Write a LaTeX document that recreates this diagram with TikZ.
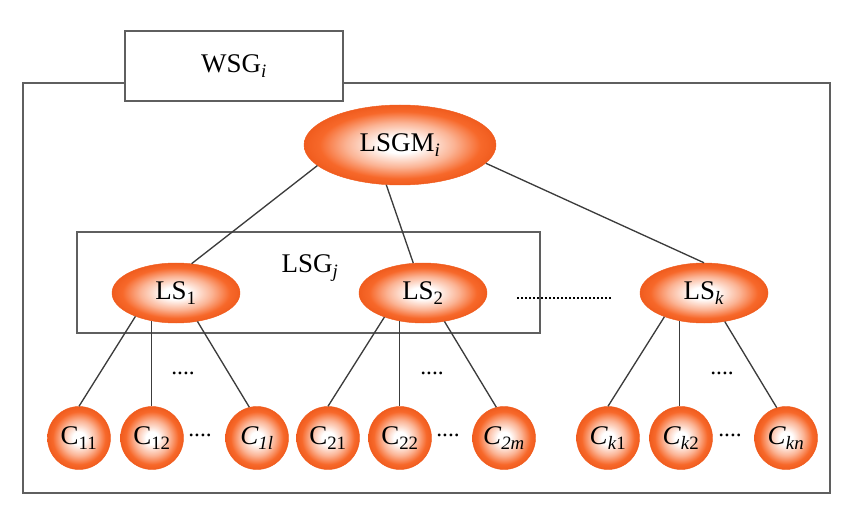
\documentclass[tikz,border=0pt]{standalone}
\usepackage{fontspec}
\setmainfont{Liberation Serif}
\usetikzlibrary{shapes.geometric}

\definecolor{nodeorange}{RGB}{247,104,42}
\definecolor{edgeorange}{RGB}{240,92,30}
\definecolor{linegray}{RGB}{60,60,60}
\definecolor{framegray}{RGB}{95,95,95}
\pgfdeclareradialshading{orangeglow}{\pgfpoint{0bp}{0bp}}{%
  color(0bp)=(white); color(5bp)=(white); color(14bp)=(nodeorange!50!white);
  color(21bp)=(nodeorange); color(25bp)=(edgeorange); color(50bp)=(edgeorange)}

\tikzset{
  bigfont/.style={font=\fontsize{23}{27}\selectfont},
  orangeball/.style={shading=orangeglow, draw=edgeorange, line width=0.4pt,
                     inner sep=0pt, bigfont},
  lsnode/.style={orangeball, ellipse, minimum width=3.84cm, minimum height=1.8cm},
  cnode/.style={orangeball, circle, minimum size=1.89cm},
  link/.style={draw=linegray, line width=0.04cm},
  framebox/.style={draw=framegray, line width=0.045cm},
  dotsnode/.style={font=\fontsize{20}{24}\selectfont, inner sep=0pt}
}

\begin{document}
\begin{tikzpicture}[x=0.03cm, y=-0.03cm]

    \useasboundingbox (0,0) rectangle (846,511);

    % outer frame and group label
    \draw[framebox] (23,83) rectangle (830,493);
    \node[framebox, fill=white, rectangle, minimum width=6.54cm,
          minimum height=2.1cm, bigfont] (wsg) at (234,66)
        {WSG\textsubscript{\textit{i}}};

    % local group box
    \draw[framebox] (77,232) rectangle (540,333);
    \node[bigfont] (lsg) at (310,268) {LSG\textsubscript{\textit{j}}};

    % manager
    \node[orangeball, ellipse, minimum width=5.76cm, minimum height=2.4cm]
        (lsgm) at (400,145) {LSGM\textsubscript{\textit{i}}};

    % servers
    \node[lsnode] (ls1) at (176,293) {LS\textsubscript{1}};
    \node[lsnode] (ls2) at (423,293) {LS\textsubscript{2}};
    \node[lsnode] (lsk) at (704,293) {LS\textsubscript{\textit{k}}};

    % clients
    \node[cnode] (c11) at (79,438)  {C\textsubscript{11}};
    \node[cnode] (c12) at (152,438) {C\textsubscript{12}};
    \node[cnode] (c1l) at (257,438) {\textit{C}\textsubscript{\textit{1l}}};
    \node[cnode] (c21) at (328,438) {C\textsubscript{21}};
    \node[cnode] (c22) at (400,438) {C\textsubscript{22}};
    \node[cnode] (c2m) at (504,438) {\textit{C}\textsubscript{\textit{2m}}};
    \node[cnode] (ck1) at (608,438) {\textit{C}\textsubscript{\textit{k}1}};
    \node[cnode] (ck2) at (681,438) {\textit{C}\textsubscript{\textit{k}2}};
    \node[cnode] (ckn) at (786,438) {\textit{C}\textsubscript{\textit{kn}}};

    % manager to servers
    \draw[link] (lsgm.194) -- (ls1.62);
    \draw[link] (lsgm.-109) -- (ls2.108);
    \draw[link] (lsgm.-12) -- (lsk.north);

    % servers to clients
    \draw[link] (ls1.210) -- (c11.north);
    \draw[link] (ls1.229) -- (ls1.229 |- c12.north);
    \draw[link] (ls1.-53) -- (c1l.104);
    \draw[link] (ls2.212) -- (c21.north);
    \draw[link] (ls2.230) -- (ls2.230 |- c22.north);
    \draw[link] (ls2.-53) -- (c2m.104);
    \draw[link] (lsk.211) -- (ck1.north);
    \draw[link] (lsk.229) -- (lsk.229 |- ck2.north);
    \draw[link] (lsk.-54) -- (ckn.107);

    % ellipses
    \draw[line width=0.06cm, dash pattern=on 0.06cm off 0.06cm] (517,298) -- (612,298);
    \node[dotsnode] (dots1) at (183,373) {....};
    \node[dotsnode] (dots2) at (432,373) {....};
    \node[dotsnode] (dots3) at (722,373) {....};
    \node[dotsnode] (dots4) at (200,435) {....};
    \node[dotsnode] (dots5) at (448,435) {....};
    \node[dotsnode] (dots6) at (730,435) {....};

\end{tikzpicture}
\end{document}
